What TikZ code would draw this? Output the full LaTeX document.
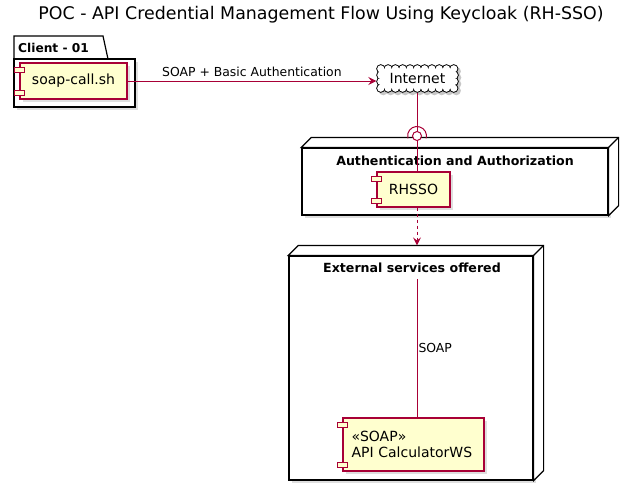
\documentclass[tikz,border=0pt]{standalone}
\usepackage{fontspec}
\setmainfont{DejaVu Sans}
\usepackage{tikz}
\usetikzlibrary{positioning}
\usetikzlibrary{calc}
\usetikzlibrary{arrows.meta}
\usetikzlibrary{shadows}
\usetikzlibrary{backgrounds}

\definecolor{umlred}{rgb}{0.66,0,0.21}
\definecolor{umlfill}{rgb}{1,1,0.81}

\tikzset{
  shade3/.style={drop shadow={shadow xshift=3pt,shadow yshift=-3pt,opacity=0.25,fill=black!50}},
  compbox/.style={draw=umlred,line width=1.1pt,fill=umlfill,shade3,rectangle,inner sep=0pt,font=\fontsize{14}{16.5}\selectfont},
  nodebox/.style={draw=black,line width=1.2pt,fill=white,rectangle,inner sep=0pt},
  boxtitle/.style={font=\bfseries\fontsize{12.6}{14}\selectfont},
  link/.style={draw=umlred,line width=1pt},
  tip/.style={-{Stealth[length=8pt,width=8pt,inset=3pt]}}
}

\begin{document}
\begin{tikzpicture}[x=1pt,y=1pt]
\useasboundingbox (0,0) rectangle (639,-490);

% title
\node (title) at (321,-15) {\fontsize{17.4}{20}\selectfont POC - API Credential Management Flow Using Keycloak (RH-SSO)};

% package Client - 01
\draw[line width=1.2pt,fill=white] (14,-59) -- (14,-36) -- (103,-36) -- (108,-59) -- cycle;
\node[nodebox,shade3,minimum width=121pt,minimum height=48pt] (client) at (74.5,-83) {};
\node[font=\bfseries\fontsize{12.2}{14}\selectfont,anchor=west,inner sep=0pt] (clienttitle) at (18,-47.5) {Client - 01};
\node[compbox,minimum width=107pt,minimum height=36pt] (soap) at (73.5,-81) {soap-call.sh};

% cloud
\node[rectangle,minimum width=73pt,minimum height=19pt,inner sep=0pt,font=\fontsize{14}{16}\selectfont] (internet) at (417.5,-78.5) {Internet};
\begin{scope}[on background layer]
  \foreach \r/\c/\s in {4.6/black!22/2.5, 4.6/black/0, 3.6/white/0}{
    \foreach \k in {0,...,10}{
      \fill[\c] ($(internet.north west)+(\s,-\s)+(\k*7.3,0)$) circle (\r);
      \fill[\c] ($(internet.south west)+(\s,-\s)+(\k*7.3,0)$) circle (\r);
    }
    \foreach \k in {1,2}{
      \fill[\c] ($(internet.north west)+(\s,-\s)+(0,-\k*6.33)$) circle (\r);
      \fill[\c] ($(internet.north east)+(\s,-\s)+(0,-\k*6.33)$) circle (\r);
    }
  }
  \fill[white] (internet.north west) rectangle (internet.south east);
\end{scope}

% 3d nodes
\node[nodebox,shade3,minimum width=306pt,minimum height=67pt] (auth) at (455,-181.5) {};
\node[nodebox,shade3,minimum width=244pt,minimum height=224pt] (ext) at (411,-368) {};
\foreach \n in {auth,ext}{
  \draw[line width=1.2pt,fill=white] (\n.north west) -- ++(10,10) -- ($(\n.north east)+(10,10)$)
        -- ($(\n.south east)+(10,10)$) -- (\n.south east) -- (\n.north east) -- cycle;
  \draw[line width=1.2pt] (\n.north east) -- ++(10,10);
}
\node[boxtitle] (authtitle) at (455,-161) {Authentication and Authorization};
\node[boxtitle] (exttitle) at (412,-268) {External services offered};

% components
\node[compbox,minimum width=73pt,minimum height=35pt] (rhsso) at (413.5,-189.5) {RHSSO};
\node[compbox,minimum width=141pt,minimum height=53pt,align=left,text width=124pt] (api) at (413.5,-444.5) {«SOAP»\\API CalculatorWS};
\foreach \c in {soap,rhsso,api}{
  \draw[umlred,line width=0.9pt,fill=umlfill] ($(\c.north west)+(-5,-5)$) rectangle ++(10,-5);
  \draw[umlred,line width=0.9pt,fill=umlfill] ($(\c.south west)+(-5,4)$) rectangle ++(10,5);
}

% connectors
\coordinate (lolly) at (417,-136);
\coordinate (extin) at ($(ext.north -| lolly)+(0,10)$);
\coordinate (soaptop) at (417,-279);
\draw[link,tip] (soap) -- node[above,font=\fontsize{12.4}{14}\selectfont,text=black] {SOAP + Basic Authentication} ($(soap -| internet.west)+(-4.5,0)$);
\draw[link] ($(internet.south -| lolly)+(0,-4.5)$) -- (lolly);
\draw[link] (lolly) -- (rhsso.north -| lolly);
\draw[link,fill=white] (lolly) circle (4.5);
\draw[link] (lolly) ++(-15:9.5) arc[start angle=-15,end angle=195,radius=9.5];
\draw[link,dashed,tip] (rhsso.south -| lolly) -- (extin);
\draw[link] (soaptop) -- node[right,pos=0.5,inner sep=1pt,font=\fontsize{12.4}{14}\selectfont,text=black] {SOAP} (api.north -| soaptop);
\end{tikzpicture}
\end{document}
